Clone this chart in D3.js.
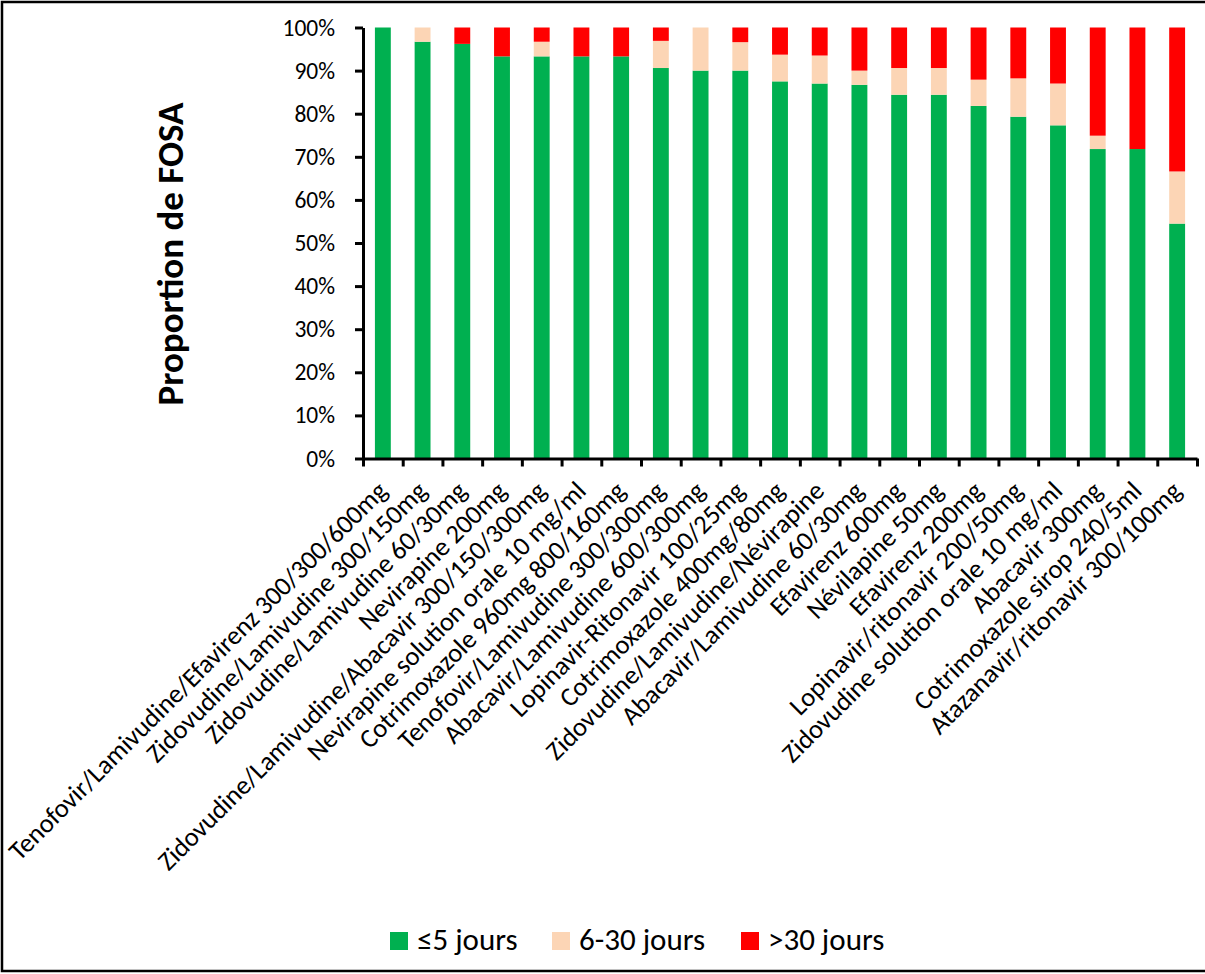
<!DOCTYPE html>
<html>
<head>
<meta charset="utf-8">
<script src="https://cdn.jsdelivr.net/npm/d3@7"></script>
<style>
  html, body { margin: 0; padding: 0; background: #fff; }
  svg { display: block; }
  text { font-family: Carlito, Calibri, Lato, sans-serif; fill: #000; }
</style>
</head>
<body>
<svg id="chart" width="1205" height="974"></svg>
<script>
// Medicines (x categories)
const categories = [
  "Tenofovir/Lamivudine/Efavirenz 300/300/600mg",
  "Zidovudine/Lamivudine 300/150mg",
  "Zidovudine/Lamivudine 60/30mg",
  "Nevirapine 200mg",
  "Zidovudine/Lamivudine/Abacavir 300/150/300mg",
  "Nevirapine solution orale 10 mg/ml",
  "Cotrimoxazole 960mg 800/160mg",
  "Tenofovir/Lamivudine 300/300mg",
  "Abacavir/Lamivudine 600/300mg",
  "Lopinavir-Ritonavir 100/25mg",
  "Cotrimoxazole 400mg/80mg",
  "Zidovudine/Lamivudine/Névirapine",
  "Abacavir/Lamivudine 60/30mg",
  "Efavirenz 600mg",
  "Névilapine 50mg",
  "Efavirenz 200mg",
  "Lopinavir/ritonavir 200/50mg",
  "Zidovudine solution orale 10 mg/ml",
  "Abacavir 300mg",
  "Cotrimoxazole sirop 240/5ml",
  "Atazanavir/ritonavir 300/100mg"
];

// Share of FOSA (%) per delay class
const within5 = [100, 96.7, 96.2, 93.3, 93.3, 93.3, 93.3, 90.6, 90.0, 90.0, 87.5, 87.0, 86.7, 84.4, 84.4, 81.8, 79.3, 77.3, 71.8, 71.8, 54.5];
const from6to30 = [0, 3.3, 0, 0, 3.4, 0, 0, 6.3, 10.0, 6.6, 6.2, 6.5, 3.3, 6.2, 6.2, 6.1, 8.9, 9.7, 3.1, 0, 12.1];
const over30 = [0, 0, 3.8, 6.7, 3.3, 6.7, 6.7, 3.1, 0, 3.4, 6.3, 6.5, 10.0, 9.4, 9.4, 12.1, 11.8, 13.0, 25.1, 28.2, 33.4];

const seriesNames = ["≤5 jours", "6-30 jours", ">30 jours"];
const seriesColors = ["#00B050", "#FCD5B5", "#FF0000"];
const yTicks = [0, 10, 20, 30, 40, 50, 60, 70, 80, 90, 100];

const rows = categories.map((c, i) => ({
  cat: c,
  s0: within5[i],
  s1: from6to30[i],
  s2: over30[i]
}));
const stacked = d3.stack().keys(["s0", "s1", "s2"])(rows);

const svg = d3.select("#chart");

// Outer frame
svg.append("rect")
  .attr("x", 2).attr("y", 2)
  .attr("width", 1215).attr("height", 969)
  .attr("fill", "none").attr("stroke", "#000").attr("stroke-width", 2.5);

const plotLeft = 363, plotRight = 1197, plotTop = 27.5, plotBottom = 458.5;

const x = d3.scaleBand().domain(categories).range([plotLeft, plotRight])
  .paddingInner(0.6).paddingOuter(0.3);
const xTick = d3.scaleLinear().domain([0, categories.length]).range([plotLeft, plotRight]);
const y = d3.scaleLinear().domain([0, 100]).range([plotBottom, plotTop]);

// Bars
svg.append("g").selectAll("g")
  .data(stacked)
  .join("g")
  .attr("fill", (d, i) => seriesColors[i])
  .selectAll("rect")
  .data(d => d)
  .join("rect")
  .attr("x", d => x(d.data.cat))
  .attr("width", x.bandwidth())
  .attr("y", d => y(d[1]))
  .attr("height", d => y(d[0]) - y(d[1]));

// Y axis
const yAxis = svg.append("g")
  .attr("transform", `translate(${plotLeft},0)`)
  .call(d3.axisLeft(y).tickValues(yTicks).tickFormat(d => d + "%").tickSize(8).tickSizeOuter(0));
yAxis.select(".domain").attr("stroke-width", 3);
yAxis.selectAll(".tick line").attr("stroke-width", 3);
yAxis.selectAll(".tick text")
  .attr("x", -28)
  .style("font-size", "23.5px")
  .style("font-family", "Carlito, Calibri, Lato, sans-serif");

// X axis
const xAxis = svg.append("g")
  .attr("transform", `translate(0,${plotBottom})`)
  .call(d3.axisBottom(xTick).tickValues(d3.range(categories.length + 1)).tickFormat("").tickSize(8).tickSizeOuter(0));
xAxis.select(".domain").attr("stroke-width", 3);
xAxis.selectAll(".tick line").attr("stroke-width", 3);

// Category labels, rotated under the axis
svg.append("g").selectAll("text")
  .data(categories)
  .join("text")
  .attr("text-anchor", "end")
  .attr("transform", d => `translate(${x(d) + x.bandwidth() / 2 + 6},${plotBottom + 34}) rotate(-45)`)
  .style("font-size", "26.5px")
  .text(d => d);

// Y axis title
svg.append("text")
  .attr("transform", `translate(183,254) rotate(-90)`)
  .attr("text-anchor", "middle")
  .style("font-size", "37px")
  .style("font-weight", "bold")
  .text("Proportion de FOSA");

// Legend
const legendX = [390, 552, 741];
const legend = svg.append("g").selectAll("g")
  .data(seriesNames)
  .join("g")
  .attr("transform", (d, i) => `translate(${legendX[i]},941)`);
legend.append("rect")
  .attr("x", 0).attr("y", -9)
  .attr("width", 18).attr("height", 18)
  .attr("fill", (d, i) => seriesColors[i]);
legend.append("text")
  .attr("x", 27).attr("y", 0)
  .attr("dy", "0.3em")
  .style("font-size", "31px")
  .text(d => d);
</script>
</body>
</html>
